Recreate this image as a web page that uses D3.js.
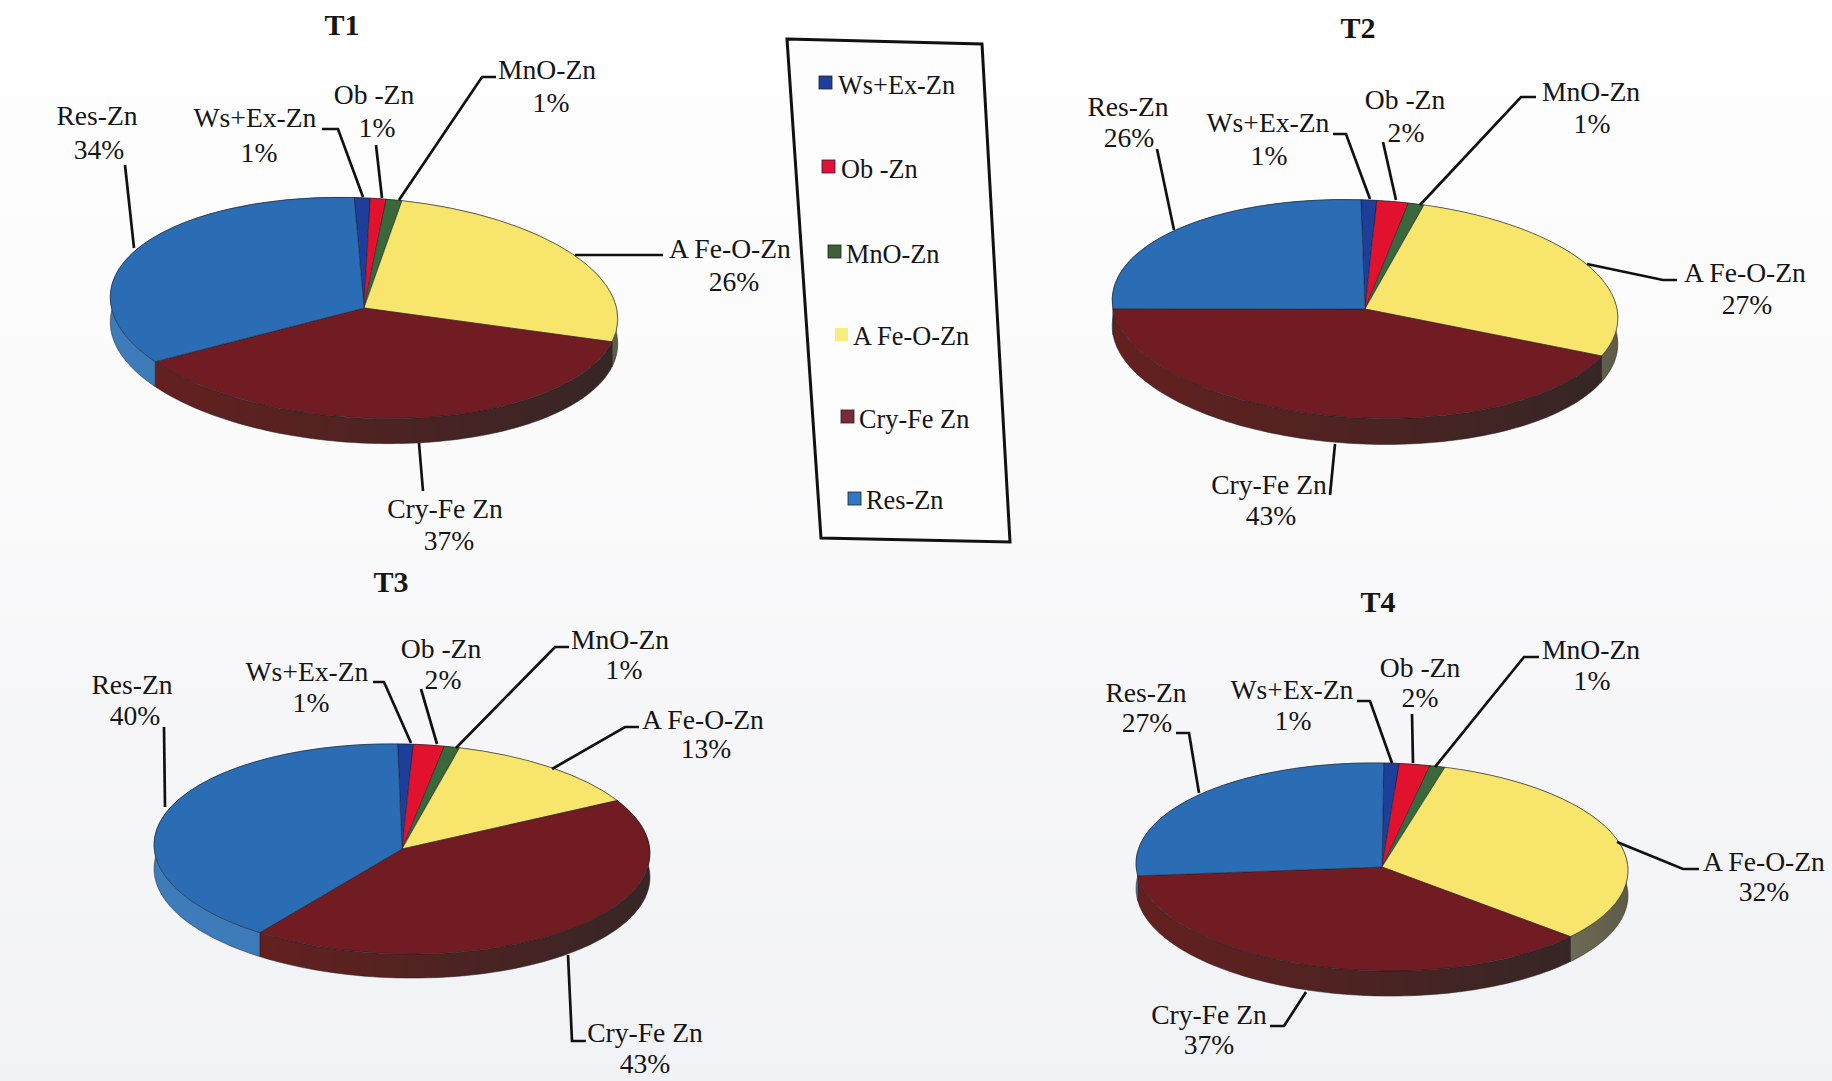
<!DOCTYPE html>
<html>
<head>
<meta charset="utf-8">
<title>Zn fractions T1-T4</title>
<script src="https://cdn.jsdelivr.net/npm/d3@7/dist/d3.min.js"></script>
<style>
  html, body { margin: 0; padding: 0; background: #fff; }
  svg { display: block; }
  text { font-family: "Liberation Serif", "Times New Roman", serif; fill: #151515; }
</style>
</head>
<body>
<svg id="chart" width="1832" height="1081"></svg>
<script>
// Zinc fractions, in slice order clockwise from the top of each pie
const categories = ["Ws+Ex-Zn", "Ob -Zn", "MnO-Zn", "A Fe-O-Zn", "Cry-Fe Zn", "Res-Zn"];
const titles = ["T1", "T2", "T3", "T4"];
const t1Values = [1, 1, 1, 26, 37, 34];
const t2Values = [1, 2, 1, 27, 43, 26];
const t3Values = [1, 2, 1, 13, 43, 40];
const t4Values = [1, 2, 1, 32, 37, 27];

// Fill colours per category
const topColors = ["#1d3f9a", "#e2122f", "#39683a", "#f8e66c", "#711b22", "#2b6db5"];
const wallFrom = ["#1d3f9a", "#c01030", "#2f5530", "#8d8a72", "#64201f", "#3d7cbc"];
const wallTo = ["#1d3f9a", "#c01030", "#2f5530", "#5e5c48", "#352625", "#3d78b4"];
const legendColors = ["#1f3f9f", "#e3103a", "#3c6038", "#f8ee80", "#7c2a38", "#2f78c8"];

// Geometry of each pie: ellipse, extrusion, tilt and rotation of the first slice
const pieGeometry = [
  { cx: 364, cy: 308, rx: 254, ry: 110, depth: 25, tilt: 3, start: -3.5 },
  { cx: 1365, cy: 309, rx: 253, ry: 109, depth: 26, tilt: 2.5, start: -2 },
  { cx: 402, cy: 849, rx: 248, ry: 105, depth: 24, tilt: 1.2, start: -1.5 },
  { cx: 1382, cy: 867, rx: 246, ry: 104, depth: 25, tilt: 1, start: 0 }
];

// Title anchor per pie
const titleAnchors = [[342, 35], [1358, 38], [391, 592], [1378, 612]];

// Label anchors per pie, per category: x and baseline of the name
const labelAnchors = [
  [[255, 127], [374, 104], [547, 79], [730, 258], [445, 518], [97, 125]],
  [[1268, 132], [1405, 109], [1591, 101], [1745, 282], [1269, 494], [1128, 116]],
  [[307, 681], [441, 658], [620, 649], [703, 729], [645, 1042], [132, 694]],
  [[1292, 699], [1420, 677], [1591, 659], [1764, 871], [1209, 1024], [1146, 702]]
];
// x and baseline of the percentage under each name
const percentAnchors = [
  [[259, 162], [377, 137], [551, 112], [734, 291], [449, 550], [99, 159]],
  [[1269, 165], [1406, 142], [1592, 133], [1747, 314], [1271, 525], [1129, 147]],
  [[311, 712], [443, 689], [624, 679], [706, 758], [645, 1073], [135, 725]],
  [[1293, 730], [1420, 707], [1592, 690], [1764, 901], [1209, 1054], [1147, 732]]
];

// Leader line routes per pie, per category
const leaderRoutes = [
  [[[322, 129], [338, 129], [363, 197]], [[376, 145], [382, 198]], [[496, 77], [482, 77], [399, 200]],
   [[663, 255], [575, 255]], [[419, 443], [423, 491]], [[125, 165], [134, 248]]],
  [[[1333, 134], [1346, 134], [1370, 199]], [[1383, 142], [1396, 200]], [[1536, 97], [1521, 97], [1420, 205]],
   [[1677, 280], [1663, 280], [1587, 264]], [[1335, 444], [1330, 495]], [[1157, 149], [1174, 230]]],
  [[[373, 682], [384, 682], [411, 743]], [[421, 689], [437, 744]], [[569, 647], [555, 647], [456, 748]],
   [[639, 727], [625, 727], [552, 769]], [[568, 955], [572, 1041], [586, 1041]], [[164, 727], [165, 807]]],
  [[[1357, 701], [1370, 701], [1392, 763]], [[1412, 714], [1413, 763]], [[1539, 657], [1524, 657], [1435, 767]],
   [[1699, 869], [1683, 869], [1617, 842]], [[1270, 1026], [1284, 1026], [1306, 992]], [[1176, 733], [1189, 733], [1199, 793]]]
];

// Legend frame corners and entries: swatch corner, then text start and baseline
const legendFrame = [[787, 39], [982, 44], [1010, 542], [821, 538]];
const legendRows = [
  [819, 76, 838, 94], [822, 160, 841, 178], [828, 245, 846, 263],
  [835, 328, 853, 345], [841, 410, 859, 428], [848, 492, 866, 509]
];

const allValues = [t1Values, t2Values, t3Values, t4Values];
const svg = d3.select("#chart");
const defs = svg.append("defs");

// Paper tone, slightly greyer towards the bottom
const paper = defs.append("linearGradient").attr("id", "paper")
  .attr("x1", 0).attr("y1", 0).attr("x2", 0).attr("y2", 1);
paper.append("stop").attr("offset", "0%").attr("stop-color", "#fefefe");
paper.append("stop").attr("offset", "45%").attr("stop-color", "#fafafb");
paper.append("stop").attr("offset", "100%").attr("stop-color", "#f1f2f5");
svg.append("rect").attr("width", 1832).attr("height", 1081).attr("fill", "url(#paper)");

// Side-wall gradients, one per category
categories.forEach((c, i) => {
  const g = defs.append("linearGradient").attr("id", "wall" + i)
    .attr("x1", 0).attr("y1", 0).attr("x2", 1).attr("y2", 0);
  g.append("stop").attr("offset", "0%").attr("stop-color", wallFrom[i]);
  g.append("stop").attr("offset", "100%").attr("stop-color", wallTo[i]);
});

const pieLayout = d3.pie().sort(null).value(d => d);
const lineGen = d3.line();
const leaderLine = d3.line();

allValues.forEach((values, p) => {
  const geo = pieGeometry[p];
  const startA = geo.start * Math.PI / 180;
  const slices = pieLayout.startAngle(startA).endAngle(startA + 2 * Math.PI)(values);
  const phi = geo.tilt * Math.PI / 180;

  // Point on the tilted rim for an angle measured clockwise from the top
  const rim = (a, dy) => {
    const x = geo.rx * Math.sin(a), y = -geo.ry * Math.cos(a);
    return [geo.cx + x * Math.cos(phi) - y * Math.sin(phi),
            geo.cy + x * Math.sin(phi) + y * Math.cos(phi) + dy];
  };

  // Extruded side: top rim forward, lower rim back; hidden parts are covered by the faces
  const group = svg.append("g").attr("class", "pie pie-" + titles[p]);
  group.selectAll("path.wall").data(slices).join("path")
    .attr("class", "wall")
    .attr("fill", (d, i) => `url(#wall${i})`)
    .attr("stroke", "#222").attr("stroke-width", 0.5)
    .attr("d", d => {
      const n = Math.max(2, Math.ceil((d.endAngle - d.startAngle) * 40));
      const ang = d3.range(n + 1).map(k => d.startAngle + (d.endAngle - d.startAngle) * k / n);
      return lineGen([...ang.map(a => rim(a, 0)), ...ang.slice().reverse().map(a => rim(a, geo.depth))]) + "Z";
    });

  // Top faces: a circular arc squashed into the tilted ellipse
  const arc = d3.arc().innerRadius(0).outerRadius(geo.rx);
  group.append("g")
    .attr("transform", `translate(${geo.cx},${geo.cy}) rotate(${geo.tilt}) scale(1,${geo.ry / geo.rx})`)
    .selectAll("path").data(slices).join("path")
    .attr("d", arc)
    .attr("fill", (d, i) => topColors[i])
    .attr("stroke", "#1a1a24").attr("stroke-width", 0.8)
    .attr("stroke-opacity", 0.6)
    .attr("vector-effect", "non-scaling-stroke");

  // Leaders
  group.selectAll("path.leader").data(leaderRoutes[p]).join("path")
    .attr("class", "leader")
    .attr("d", d => leaderLine(d))
    .attr("fill", "none").attr("stroke", "#111").attr("stroke-width", 2.7);

  // Category names and their percentages
  const labels = group.selectAll("g.lbl").data(categories).join("g").attr("class", "lbl");
  labels.append("text")
    .attr("x", (d, i) => labelAnchors[p][i][0]).attr("y", (d, i) => labelAnchors[p][i][1])
    .attr("text-anchor", "middle").attr("font-size", 27.6).text(d => d);
  labels.append("text")
    .attr("x", (d, i) => percentAnchors[p][i][0]).attr("y", (d, i) => percentAnchors[p][i][1])
    .attr("text-anchor", "middle").attr("font-size", 27.6).text((d, i) => values[i] + "%");

  // Pie title
  group.append("text")
    .attr("x", titleAnchors[p][0]).attr("y", titleAnchors[p][1])
    .attr("text-anchor", "middle").attr("font-size", 30).attr("font-weight", "bold")
    .text(titles[p]);
});

// Legend
const legend = svg.append("g").attr("class", "legend");
legend.append("path")
  .attr("d", lineGen(legendFrame) + "Z")
  .attr("fill", "#fdfdfd").attr("stroke", "#111").attr("stroke-width", 3);
const rows = legend.selectAll("g").data(categories).join("g");
rows.append("rect")
  .attr("x", (d, i) => legendRows[i][0]).attr("y", (d, i) => legendRows[i][1])
  .attr("width", 13).attr("height", 13)
  .attr("fill", (d, i) => legendColors[i])
  .attr("stroke", (d, i) => i === 3 ? "none" : "#222").attr("stroke-width", 0.8);
rows.append("text")
  .attr("x", (d, i) => legendRows[i][2]).attr("y", (d, i) => legendRows[i][3])
  .attr("font-size", 26.3).text(d => d);
</script>
</body>
</html>
